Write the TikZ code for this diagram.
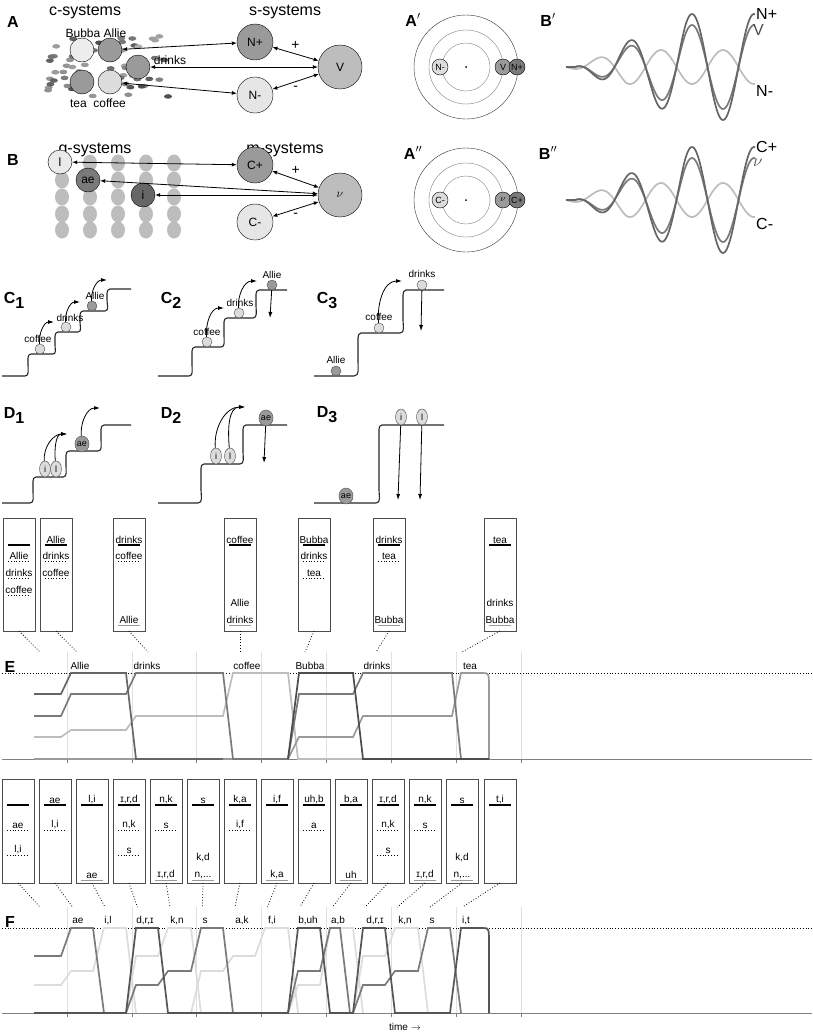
\documentclass[tikz,border=0pt]{standalone}
\usepackage{fontspec}
\setmainfont{Liberation Sans}
\usetikzlibrary{arrows.meta,shapes.geometric}
\definecolor{gA}{HTML}{555555}
\definecolor{gB}{HTML}{7A7A7A}
\definecolor{gC}{HTML}{9A9A9A}
\definecolor{gD}{HTML}{BDBDBD}
\definecolor{gE}{HTML}{DCDCDC}
\tikzset{
  sys/.style={circle,draw=black,inner sep=0pt,minimum size=#1,font=\fontsize{12}{12}\selectfont},
  ball/.style={circle,draw=black!70,inner sep=0pt,minimum size=10pt},
  oval/.style={ellipse,draw=black!70,inner sep=0pt,minimum width=11pt,minimum height=16pt,font=\fontsize{9}{9}\selectfont},
  title/.style={font=\fontsize{16}{16}\selectfont},
  panel/.style={font=\fontsize{16}{16}\selectfont\bfseries},
  lbl/.style={font=\fontsize{10}{10}\selectfont,inner sep=1pt},
  link/.style={{Latex[length=5pt,width=4pt]}-{Latex[length=5pt,width=4pt]},thick},
  stair/.style={line width=1.1pt,black!85},
  jump/.style={-{Latex[length=6pt,width=4pt]},thick},
  dotc/.style={dotted,thick},
  trace/.style={line width=1.7pt},
}
\newcommand\boxline[4]{% style, left x, y, label
  \draw[#1] (#2+5,#3) -- (#2+27,#3);
  \node[lbl,above] at (#2+16,#3) {#4};}
\newcommand\wbox[4]{% left x, top, bottom, name
  \draw[black!70] (#1,#2) rectangle (#1+32,#3);
  \coordinate (#4) at (#1+16,#3);}
\begin{document}
\begin{tikzpicture}[x=1pt,y=-1pt]
\useasboundingbox (0,0) rectangle (812,1034);
% A: c-systems and s-systems
\node[panel] at (13,22) {A};
\node[title] at (85,12) {c-systems};
\node[title] at (285,12) {s-systems};
\pgfmathsetseed{11}
\foreach \i in {1,...,70}{
  \pgfmathsetmacro\px{48+122*rnd}
  \pgfmathsetmacro\py{36+62*rnd}
  \pgfmathsetmacro\pc{30+40*rnd}
  \fill[black!\pc] (\px,\py) ellipse (4 and 2.3);
}
\node[sys=24pt,fill=gE!50] (bubba) at (82,50) {};
\node[sys=24pt,fill=gC] (allie) at (110,50) {};
\node[sys=24pt,fill=gC] (drinks) at (138,67) {};
\node[sys=24pt,fill=gC] (tea) at (82,82) {};
\node[sys=24pt,fill=gE] (coffee) at (110,82) {};
\node[lbl,font=\fontsize{12}{12}\selectfont] at (96,33) {Bubba Allie};
\node[lbl,font=\fontsize{12}{12}\selectfont] at (170,60) {drinks};
\node[lbl,font=\fontsize{12}{12}\selectfont] at (98,103) {tea\ \ coffee};
\node[sys=36pt,fill=gC] (np) at (255,42) {N+};
\node[sys=44pt,fill=gD] (v) at (340,67) {V};
\node[sys=36pt,fill=gE!70] (nm) at (255,95) {N-};
\draw[link] (allie) -- (np);
\draw[link] (drinks) -- (v);
\draw[link] (coffee) -- (nm);
\draw[link] (np) -- node[lbl,above=3pt,font=\fontsize{14}{14}\selectfont] {+} (v);
\draw[link] (nm) -- node[lbl,below=3pt,font=\fontsize{14}{14}\selectfont] {-} (v);
% B: g-systems and m-systems
\node[panel] at (13,160) {B};
\node[title] at (95,150) {g-systems};
\node[title] at (285,150) {m-systems};
\foreach \gx in {62,90,118,146,174}
  \foreach \gy in {163,180,197,214,230}
    \fill[gD] (\gx,\gy) ellipse (7 and 8.5);
\node[sys=24pt,fill=gE!60] (l) at (60,162) {l};
\node[sys=24pt,fill=gB] (ae) at (88,180) {ae};
\node[sys=24pt,fill=gA!90] (i) at (143,195) {i};
\node[sys=36pt,fill=gC] (cp) at (255,165) {C+};
\node[sys=44pt,fill=gD] (nu) at (340,195) {$\nu$};
\node[sys=36pt,fill=gE!70] (cm) at (255,222) {C-};
\draw[link] (l) -- (cp);
\draw[link] (ae) -- (nu);
\draw[link] (i) -- (nu);
\draw[link] (cp) -- node[lbl,above=3pt,font=\fontsize{14}{14}\selectfont] {+} (nu);
\draw[link] (cm) -- node[lbl,below=3pt,font=\fontsize{14}{14}\selectfont] {-} (nu);
% A', A'': rings
\foreach \ry/\lab/\ta/\tb/\tc in {67/{A$'$}/N-/V/N+,200/{A$''$}/C-/$\nu$/C+}{
  \node[panel] at (413,\ry-47) {\lab};
  \draw[black!80] (466,\ry) circle (52);
  \draw[black!50] (466,\ry) circle (37);
  \draw[black!50] (466,\ry) circle (24);
  \fill (466,\ry) circle (1);
  \node[sys=16pt,fill=gE,font=\fontsize{9}{9}\selectfont] at (440,\ry) {\ta};
  \node[sys=16pt,fill=gC,font=\fontsize{9}{9}\selectfont] at (503,\ry) {\tb};
  \node[sys=16pt,fill=gB,font=\fontsize{9}{9}\selectfont] at (517,\ry) {\tc};
}
% B', B'': waves
\foreach \ry/\lab/\ta/\tb/\tc in {67/{B$'$}/N+/V/N-,200/{B$''$}/C+/$\nu$/C-}{
  \node[panel] at (548,\ry-47) {\lab};
  \draw[gD,trace,domain=566:755,samples=160,smooth] plot (\x,{\ry+17*min(1,max(0,(\x-566)/60))*cos(5.806*(\x-630))});
  \draw[gB,trace,domain=566:755,samples=160,smooth] plot (\x,{\ry-42*min(1,max(0,(\x-575)/110))*cos(5.806*(\x-630))});
  \draw[gA!90,trace,domain=566:755,samples=160,smooth] plot (\x,{\ry-53*min(1,max(0,(\x-575)/110))*cos(5.806*(\x-630))});
  \node[title,right,inner sep=1pt] at (755,\ry-53) {\ta};
  \node[title,right,inner sep=1pt,text=black!70] at (752,\ry-37) {\tb};
  \node[title,right,inner sep=1pt] at (755,\ry+24) {\tc};
}
% C: stairs
\node[panel] at (14,300) {C\raisebox{-5pt}{1}};
\draw[stair] (2,376) -- (25,376) to[out=0,in=-90] (28,365) -- (28,358) to[out=90,in=180] (31,354) -- (53,354) to[out=0,in=-90] (55,345) -- (55,336) to[out=90,in=180] (58,332) -- (78,332) to[out=0,in=-90] (80,322) -- (80,315) to[out=90,in=180] (83,311) -- (105,311) to[out=0,in=-90] (107,300) -- (107,293) to[out=90,in=180] (110,289) -- (131,289);
\node[ball,fill=gE] (c1coffee) at (40,349) {};
\node[ball,fill=gE] (c1drinks) at (66,327) {};
\node[ball,fill=gC] (c1allie) at (92,306) {};
\node[lbl] at (38,339) {coffee};
\node[lbl] at (70,318) {drinks};
\node[lbl] at (95,296) {Allie};
\coordinate (c1a) at (54,322);
\coordinate (c1b) at (80,302);
\coordinate (c1c) at (107,280);
\draw[jump] (c1coffee) to[out=95,in=180] (c1a);
\draw[jump] (c1drinks) to[out=95,in=180] (c1b);
\draw[jump] (c1allie) to[out=95,in=180] (c1c);
\node[panel] at (171,300) {C\raisebox{-5pt}{2}};
\draw[stair] (158,376) -- (189,376) to[out=0,in=-90] (192,365) -- (192,351) to[out=90,in=180] (195,347) -- (221,347) to[out=0,in=-90] (224,336) -- (224,322) to[out=90,in=180] (227,318) -- (253,318) to[out=0,in=-90] (256,306) -- (256,294) to[out=90,in=180] (259,290) -- (287,290);
\node[ball,fill=gE] (c2coffee) at (207,342) {};
\node[ball,fill=gE] (c2drinks) at (239,313) {};
\node[ball,fill=gC] (c2allie) at (272,285) {};
\node[lbl] at (207,332) {coffee};
\node[lbl] at (240,303) {drinks};
\node[lbl] at (272,275) {Allie};
\coordinate (c2a) at (224,308);
\coordinate (c2b) at (257,281);
\coordinate (c2c) at (270,318);
\draw[jump] (c2coffee) to[out=95,in=180] (c2a);
\draw[jump] (c2drinks) to[out=95,in=180] (c2b);
\draw[jump] (c2allie) -- (c2c);
\node[panel] at (327,300) {C\raisebox{-5pt}{3}};
\draw[stair] (314,376) -- (354,376) to[out=0,in=-90] (358,362) -- (358,338) to[out=90,in=180] (361,333) -- (400,333) to[out=0,in=-90] (403,320) -- (403,295) to[out=90,in=180] (406,290) -- (444,290);
\node[ball,fill=gC] (c3allie) at (336,371) {};
\node[ball,fill=gE] (c3coffee) at (379,328) {};
\node[ball,fill=gE] (c3drinks) at (422,285) {};
\node[lbl] at (336,360) {Allie};
\node[lbl] at (379,317) {coffee};
\node[lbl] at (422,274) {drinks};
\coordinate (c3a) at (402,281);
\coordinate (c3b) at (421,331);
\draw[jump] (c3coffee) to[out=95,in=180] (c3a);
\draw[jump] (c3drinks) -- (c3b);
% D: stairs
\node[panel] at (14,415) {D\raisebox{-5pt}{1}};
\draw[stair] (2,503) -- (30,503) to[out=0,in=-90] (33,492) -- (33,481) to[out=90,in=180] (36,477) -- (63,477) to[out=0,in=-90] (66,466) -- (66,455) to[out=90,in=180] (69,451) -- (98,451) to[out=0,in=-90] (101,440) -- (101,429) to[out=90,in=180] (104,425) -- (131,425);
\node[oval,fill=gE] (d1i) at (45,469) {i};
\node[oval,fill=gE] (d1l) at (56,469) {l};
\node[oval,fill=gC] (d1ae) at (82,444) {ae};
\coordinate (d1a) at (67,434);
\coordinate (d1b) at (100,408);
\draw[jump] (d1i) to[out=95,in=180] (d1a);
\draw[jump] (d1l) to[out=95,in=180] (d1a);
\draw[jump] (d1ae) to[out=95,in=180] (d1b);
\node[panel] at (171,415) {D\raisebox{-5pt}{2}};
\draw[stair] (158,503) -- (198,503) to[out=0,in=-90] (201,490) -- (201,468) to[out=90,in=180] (204,464) -- (240,464) to[out=0,in=-90] (243,452) -- (243,429) to[out=90,in=180] (246,425) -- (287,425);
\node[oval,fill=gE] (d2i) at (216,456) {i};
\node[oval,fill=gE] (d2l) at (230,456) {l};
\node[oval,fill=gC] (d2ae) at (266,418) {ae};
\coordinate (d2a) at (245,407);
\coordinate (d2b) at (264,463);
\draw[jump] (d2i) to[out=95,in=180] (d2a);
\draw[jump] (d2l) to[out=95,in=180] (d2a);
\draw[jump] (d2ae) -- (d2b);
\node[panel] at (327,415) {D\raisebox{-5pt}{3}};
\draw[stair] (314,503) -- (376,503) to[out=0,in=-90] (379,490) -- (379,429) to[out=90,in=180] (382,425) -- (444,425);
\node[oval,fill=gC] (d3ae) at (346,496) {ae};
\node[oval,fill=gE] (d3i) at (401,417) {i};
\node[oval,fill=gE] (d3l) at (422,417) {l};
\coordinate (d3a) at (398,500);
\coordinate (d3b) at (420,500);
\draw[jump] (d3i) -- (d3a);
\draw[jump] (d3l) -- (d3b);
% E: boxes
\wbox{3}{518}{631}{eb1}
\boxline{line width=1.6pt}{3}{545}{}
\boxline{dotted,thick}{3}{561}{Allie}
\boxline{dotted,thick}{3}{578}{drinks}
\boxline{dotted,thick}{3}{595}{coffee}
\wbox{40}{518}{631}{eb2}
\boxline{line width=1.6pt}{40}{545}{Allie}
\boxline{dotted,thick}{40}{561}{drinks}
\boxline{dotted,thick}{40}{578}{coffee}
\wbox{113}{518}{631}{eb3}
\boxline{line width=1.6pt}{113}{545}{drinks}
\boxline{dotted,thick}{113}{561}{coffee}
\boxline{gC,thick}{113}{625}{Allie}
\wbox{224}{518}{631}{eb4}
\boxline{line width=1.6pt}{224}{545}{coffee}
\node[lbl] at (240,603) {Allie};
\boxline{gC,thick}{224}{625}{drinks}
\wbox{298}{518}{631}{eb5}
\boxline{line width=1.6pt}{298}{545}{Bubba}
\boxline{dotted,thick}{298}{561}{drinks}
\boxline{dotted,thick}{298}{578}{tea}
\wbox{373}{518}{631}{eb6}
\boxline{line width=1.6pt}{373}{545}{drinks}
\boxline{dotted,thick}{373}{561}{tea}
\boxline{gC,thick}{373}{625}{Bubba}
\wbox{484}{518}{631}{eb7}
\boxline{line width=1.6pt}{484}{545}{tea}
\node[lbl] at (500,603) {drinks};
\boxline{gC,thick}{484}{625}{Bubba}
\foreach \n/\tx in {1/40,2/77,3/148,4/240,5/305,6/376,7/462}{
  \coordinate (et\n) at (\tx,652);
  \draw[dotc] (eb\n) -- (et\n);
}
% E: traces
\node[panel] at (10,667) {E};
\foreach \gx in {67,132,196,261,326,391,456,521}{
  \draw[black!12] (\gx,652) -- (\gx,759);
  \draw[black!50] (\gx,759) -- (\gx,763);
}
\draw[black!50] (2,759) -- (812,759);
\draw[dotted,thick] (2,673) -- (812,673);
\foreach \tx/\tl in {80/Allie,147/drinks,247/coffee,310/Bubba,377/drinks,470/tea}
  \node[lbl] at (\tx,666) {\tl};
\draw[trace,gD] (34,737) -- (61,737) -- (71,730) -- (126,730) -- (136,716) -- (223,716) -- (233,673) -- (288,673) -- (298,759) -- (365,759);
\draw[trace,gC] (34,759) -- (288,759) -- (299,737) -- (353,737) -- (363,716) -- (452,716) -- (461,673) -- (483,673) .. controls (489,673) .. (489,690) -- (489,759);
\draw[trace,gB] (34,716) -- (61,716) -- (71,694) -- (126,694) -- (136,673) -- (223,673) -- (233,759) -- (288,759) -- (299,694) -- (353,694) -- (363,673) -- (452,673) -- (461,759);
\draw[trace,gA!90] (34,694) -- (61,694) -- (71,673) -- (126,673) -- (136,759) -- (223,759);
\draw[trace,black!70] (288,759) -- (299,673) -- (353,673) -- (363,759) -- (489,759);
% F: boxes
\foreach \n/\bx in {1/2,2/39,3/76,4/113,5/150,6/187,7/224,8/261,9/298,10/335,11/372,12/409,13/446,14/484}{
  \wbox{\bx}{779}{883}{fb\n}
  \pgfmathsetmacro\tx{40+32.5*(\n-1)}
  \coordinate (ft\n) at (\tx,907);
  \draw[dotc] (fb\n) -- (ft\n);
}
\boxline{line width=1.6pt}{2}{805}{}
\boxline{dotted,thick}{2}{830}{ae}
\boxline{dotted,thick}{2}{855}{l,i}
\boxline{line width=1.6pt}{39}{805}{ae}
\boxline{dotted,thick}{39}{830}{l,i}
\boxline{line width=1.6pt}{76}{805}{l,i}
\boxline{gC,thick}{76}{880}{ae}
\boxline{line width=1.6pt}{113}{805}{ɪ,r,d}
\boxline{dotted,thick}{113}{830}{n,k}
\boxline{dotted,thick}{113}{855}{s}
\boxline{line width=1.6pt}{150}{805}{n,k}
\boxline{dotted,thick}{150}{830}{s}
\boxline{gC,thick}{150}{880}{ɪ,r,d}
\boxline{line width=1.6pt}{187}{805}{s}
\node[lbl] at (203,858) {k,d};
\boxline{gC,thick}{187}{880}{n,...}
\boxline{line width=1.6pt}{224}{805}{k,a}
\boxline{dotted,thick}{224}{830}{i,f}
\boxline{line width=1.6pt}{261}{805}{i,f}
\boxline{gC,thick}{261}{880}{k,a}
\boxline{line width=1.6pt}{298}{805}{uh,b}
\boxline{dotted,thick}{298}{830}{a}
\boxline{line width=1.6pt}{335}{805}{b,a}
\boxline{gC,thick}{335}{880}{uh}
\boxline{line width=1.6pt}{372}{805}{ɪ,r,d}
\boxline{dotted,thick}{372}{830}{n,k}
\boxline{dotted,thick}{372}{855}{s}
\boxline{line width=1.6pt}{409}{805}{n,k}
\boxline{dotted,thick}{409}{830}{s}
\boxline{gC,thick}{409}{880}{ɪ,r,d}
\boxline{line width=1.6pt}{446}{805}{s}
\node[lbl] at (462,858) {k,d};
\boxline{gC,thick}{446}{880}{n,...}
\boxline{line width=1.6pt}{484}{805}{t,i}
% F: traces
\node[panel] at (10,922) {F};
\foreach \gx in {67,132,196,261,326,391,456,521}{
  \draw[black!12] (\gx,907) -- (\gx,1013);
  \draw[black!50] (\gx,1013) -- (\gx,1017);
}
\draw[black!50] (2,1013) -- (812,1013);
\draw[dotted,thick] (2,928) -- (812,928);
\foreach \tx/\tl in {78/ae,108/{i,l},145/{d,r,ɪ},177/{k,n},205/s,242/{a,k},272/{f,i},308/{b,uh},338/{a,b},375/{d,r,ɪ},405/{k,n},432/s,466/{i,t}}
  \node[lbl] at (\tx,921) {\tl};
\draw[trace,gE] (34,985) -- (61,985) -- (71,971) -- (93,971) -- (104,928) -- (126,928) -- (136,1013);
\draw[trace,gE] (126,1013) -- (136,956) -- (158,956) -- (168,928) -- (191,928) -- (201,1013);
\draw[trace,gE] (191,1013) -- (201,971) -- (223,971) -- (233,956) -- (255,956) -- (265,928) -- (288,928) -- (298,1013);
\draw[trace,gE] (288,1013) -- (298,985) -- (320,985) -- (330,928) -- (353,928) -- (363,1013);
\draw[trace,gE] (353,1013) -- (363,956) -- (385,956) -- (395,928) -- (418,928) -- (428,1013);
\draw[trace,gB] (34,956) -- (61,956) -- (71,928) -- (93,928) -- (104,1013) -- (126,1013);
\draw[trace,gB] (126,1013) -- (136,985) -- (158,985) -- (168,971) -- (191,971) -- (201,928) -- (223,928) -- (233,1013) -- (288,1013);
\draw[trace,gB] (288,1013) -- (298,971) -- (320,971) -- (330,928) -- (340,928) -- (350,1013);
\draw[trace,gB] (353,1013) -- (363,985) -- (385,985) -- (395,971) -- (418,971) -- (428,928) -- (450,928) -- (461,1013);
\draw[trace,gA] (34,1013) -- (126,1013) -- (136,928) -- (158,928) -- (168,1013) -- (288,1013) -- (298,928) -- (320,928) -- (330,1013) -- (353,1013) -- (363,928) -- (385,928) -- (395,1013) -- (450,1013) -- (461,928) -- (483,928) .. controls (489,928) .. (489,945) -- (489,1013);
\node[lbl] at (405,1027) {time $\rightarrow$};
\end{tikzpicture}
\end{document}
